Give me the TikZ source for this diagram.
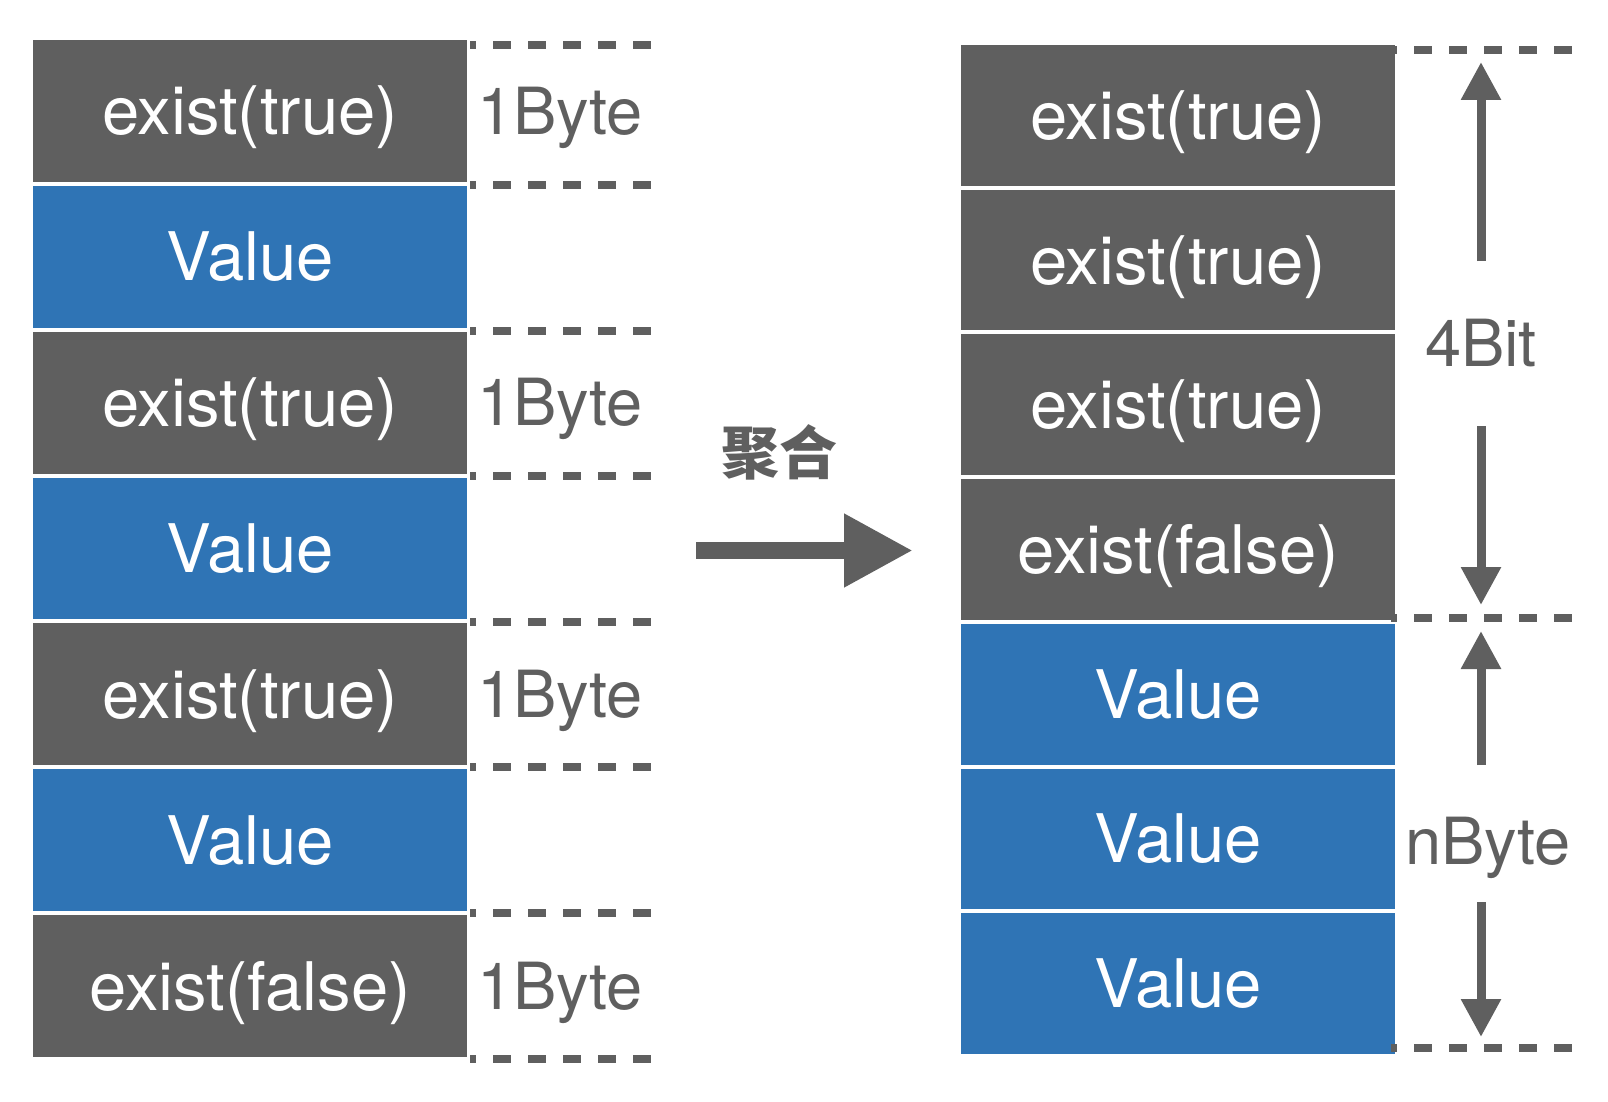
\documentclass[tikz,border=0pt]{standalone}
\usepackage{fontspec}
\setmainfont{TeX Gyre Heros}
\newfontfamily\cjk{Noto Sans CJK SC}
\usetikzlibrary{arrows.meta}
\definecolor{boxgray}{HTML}{5F5F5F}
\definecolor{boxblue}{HTML}{2F74B5}
\begin{document}
\begin{tikzpicture}[x=0.5pt,y=-0.5pt,
  cell/.style={draw=none, minimum width=217pt, inner sep=0pt, text=white,
    font=\fontsize{33.5}{37}\selectfont, text height=24pt, text depth=0pt},
  flag/.style={cell, fill=boxgray},
  val/.style={cell, fill=boxblue},
  lbl/.style={text=boxgray, inner sep=0pt, font=\fontsize{32.5}{36}\selectfont,
    text height=23.3pt, text depth=0pt},
  guide/.style={draw=boxgray, line width=4pt, dash pattern=on 9pt off 8.5pt, dash phase=6pt},
  dimarrow/.style={draw=boxgray, line width=4.5pt, -{Triangle[length=19pt,width=19pt]}},
  bigarrow/.style={draw=boxgray, line width=8.5pt, -{Triangle[length=34.5pt,width=34.5pt]}}
]
\useasboundingbox (0,0) rectangle (1608,1102);
% left column
\foreach \n/\yc/\s/\t in {1/110.93/flag/exist(true), 2/256.79/val/Value,
    3/402.65/flag/exist(true), 4/548.51/val/Value, 5/694.37/flag/exist(true),
    6/840.23/val/Value, 7/986.09/flag/exist(false)}
  \node[\s, minimum height=70.93pt] (L\n) at (250,\yc) {\t};
% right column
\foreach \n/\yc/\s/\t in {1/115.35/flag/exist(true), 2/260.05/flag/exist(true),
    3/404.75/flag/exist(true), 4/549.45/flag/exist(false), 5/694.15/val/Value,
    6/838.85/val/Value, 7/983.55/val/Value}
  \node[\s, minimum height=70.35pt] (R\n) at (1178,\yc) {\t};
% left size guides
\foreach \y in {45.5,185,330.5,476,621.5,767,912.5,1058.5}
  \draw[guide] (470,\y) -- (652,\y);
\node[lbl] (B1) at (560,110.93) {1Byte};
\node[lbl] (B3) at (560,402.65) {1Byte};
\node[lbl] (B5) at (560,694.37) {1Byte};
\node[lbl] (B7) at (560,986.09) {1Byte};
% right size guides
\foreach \y in {50,618,1047.5}
  \draw[guide] (1391,\y) -- (1572,\y);
\node[lbl] (bit) at (1481,343) {4Bit};
\node[lbl] (nbyte) at (1488,841) {nByte};
\coordinate (t1) at (1481,62);
\coordinate (t2) at (1481,605);
\coordinate (t3) at (1481,631);
\coordinate (t4) at (1481,1037);
\coordinate (s1) at (1481,261);
\coordinate (s2) at (1481,426);
\coordinate (s3) at (1481,765);
\coordinate (s4) at (1481,902);
\draw[dimarrow] (s1) -- (t1);
\draw[dimarrow] (s2) -- (t2);
\draw[dimarrow] (s3) -- (t3);
\draw[dimarrow] (s4) -- (t4);
% aggregation arrow
\node[anchor=base, inner sep=0pt, text=boxgray, font=\cjk\bfseries\fontsize{29}{32}\selectfont] (agg) at (779,474) {聚合};
\coordinate (aS) at (696,550.5);
\coordinate (aE) at (913,550.5);
\draw[bigarrow] (aS) -- (aE);
\end{tikzpicture}
\end{document}
